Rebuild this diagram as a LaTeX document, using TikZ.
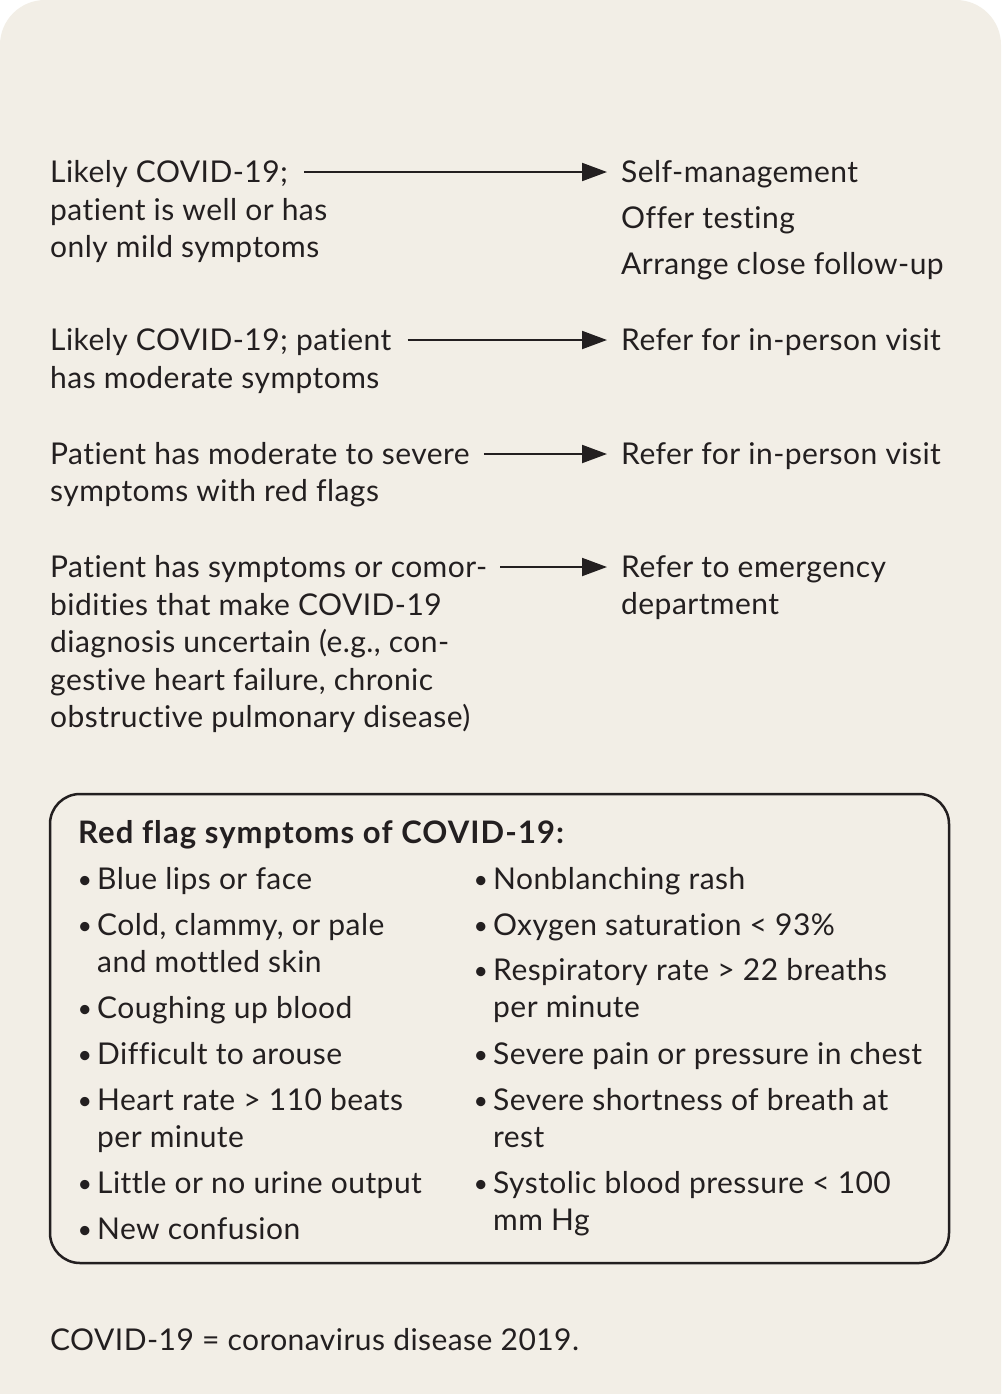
\documentclass[tikz,border=0pt]{standalone}
\usepackage{fontspec}
\setmainfont{Lato}[LetterSpace=1.5,Ligatures=NoCommon]
\usetikzlibrary{arrows.meta}
\definecolor{paper}{HTML}{F2EEE6}
\definecolor{ink}{HTML}{231F20}
\newcommand{\bodyfont}{\fontsize{30}{37.5}\selectfont}
\newcommand{\tl}{\rule{0pt}{26pt}}
\newcommand{\bul}{\llap{\raisebox{1pt}{\fontsize{25}{25}\selectfont\textbullet}\hspace{5pt}}}

\begin{document}
\begin{tikzpicture}[x=1pt,y=-1pt,
  txt/.style={anchor=north west,yshift=26pt,inner sep=0pt,font=\bodyfont,text=ink,align=left},
  flow/.style={-{Triangle[length=25pt,width=18pt]},line width=2pt,draw=ink}]
\useasboundingbox (0,0) rectangle (1001,1394);
% page
\fill[white] (0,0) rectangle (1001,1394);
\fill[paper] (0,1394) [rounded corners=45pt] -- (0,0) -- (1001,0) [sharp corners] -- (1001,1394) -- cycle;

% left hand
\node[txt] (q1) at (50,182) {\tl Likely COVID-19;};
\node[txt] (q1x) at (50,220) {\tl patient is well or has\\only mild symptoms};
\node[txt] (q2) at (50,350) {\tl Likely COVID-19; patient};
\node[txt] (q2x) at (50,388) {\tl has moderate symptoms};
\node[txt] (q3) at (50,464) {\tl Patient has moderate to severe};
\node[txt] (q3x) at (50,501) {\tl symptoms with red flags};
\node[txt] (q4) at (50,577) {\tl Patient has symptoms or comor-};
\node[txt] (q4x) at (50,615) {\tl bidities that make COVID-19\\diagnosis uncertain (e.g., con-\\gestive heart failure, chronic\\obstructive pulmonary disease)};

% right hand
\node[txt,font=\fontsize{30}{46}\selectfont] (a1) at (621,182) {\tl Self-management\\Offer testing\\Arrange close follow-up};
\node[txt] (a2) at (621,350) {\tl Refer for in-person visit};
\node[txt] (a3) at (621,464) {\tl Refer for in-person visit};
\node[txt] (a4) at (621,577) {\tl Refer to emergency\\department};

\draw[flow] ([shift={(16,16)}]q1.north east) -- ([shift={(-14,16)}]a1.north west);
\draw[flow] ([shift={(16,16)}]q2.north east) -- ([shift={(-14,16)}]a2.north west);
\draw[flow] ([shift={(14,16)}]q3.north east) -- ([shift={(-14,16)}]a3.north west);
\draw[flow] ([shift={(13,16)}]q4.north east) -- ([shift={(-14,16)}]a4.north west);

% red flags
\draw[ink,line width=2.5pt,rounded corners=30pt] (50,794) rectangle (949,1263);
\node[txt,font=\fontsize{31}{37.5}\selectfont\bfseries\addfontfeatures{LetterSpace=3.5}] (flags) at (78,843) {\tl Red flag symptoms of COVID-19:};

\node[txt] (l1) at (97,889) {\tl\bul Blue lips or face};
\node[txt] (l2) at (97,935) {\tl\bul Cold, clammy, or pale\\and mottled skin};
\node[txt] (l3) at (97,1018) {\tl\bul Coughing up blood};
\node[txt] (l4) at (97,1064) {\tl\bul Difficult to arouse};
\node[txt] (l5) at (97,1110) {\tl\bul Heart rate > 110 beats\\per minute};
\node[txt] (l6) at (97,1193) {\tl\bul Little or no urine output};
\node[txt] (l7) at (97,1239) {\tl\bul New confusion};

\node[txt] (r1) at (493,889) {\tl\bul Nonblanching rash};
\node[txt] (r2) at (493,935) {\tl\bul Oxygen saturation < 93\%};
\node[txt] (r3) at (493,980) {\tl\bul Respiratory rate > 22 breaths\\per minute};
\node[txt] (r4) at (493,1064) {\tl\bul Severe pain or pressure in chest};
\node[txt] (r5) at (493,1110) {\tl\bul Severe shortness of breath at\\rest};
\node[txt] (r6) at (493,1193) {\tl\bul Systolic blood pressure < 100\\mm Hg};

% footnote
\node[txt] (note) at (50,1350) {\tl COVID-19 = coronavirus disease 2019.};
\end{tikzpicture}
\end{document}
